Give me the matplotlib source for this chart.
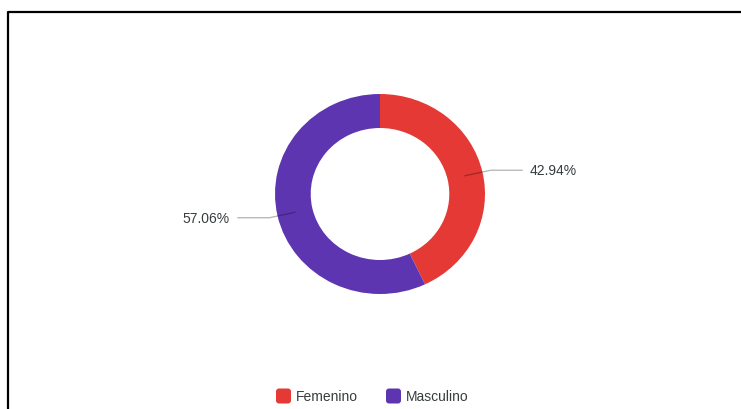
import numpy as np
import matplotlib.pyplot as plt
from matplotlib.patches import FancyBboxPatch

plt.rcParams['font.family'] = ['Liberation Sans', 'DejaVu Sans']

# --- datos ---
categorias = ['Femenino', 'Masculino']
porcentajes = [42.94, 57.06]
colores = ['#E53935', '#5E35B1']

W, H = 741, 410
fig = plt.figure(figsize=(W / 100, H / 100), dpi=100)

# capa en pixeles para el marco y la leyenda
capa = fig.add_axes([0, 0, 1, 1])
capa.set_xlim(0, W)
capa.set_ylim(H, 0)
capa.axis('off')

# --- dona ---
ax = fig.add_axes([0, 0, 1, 1])
wedges, _ = ax.pie(porcentajes, colors=colores, startangle=90, counterclock=False,
                   radius=1, wedgeprops=dict(width=0.34, edgecolor='none'))
cx, cy, rx, ry = 380, 195, 105, 100
ax.set_xlim(-cx / rx, (W - cx) / rx)
ax.set_ylim((cy - H) / ry, cy / ry)
ax.set_aspect('auto')
ax.axis('off')

# etiquetas con linea guia
for w, p in zip(wedges, porcentajes):
    ang = np.deg2rad((w.theta1 + w.theta2) / 2)
    c, s = np.cos(ang), np.sin(ang)
    lado = 1 if c >= 0 else -1
    x0, y0 = 0.83 * c, 0.83 * s
    x1, y1 = 1.08 * c, 1.08 * s
    x2 = x1 + lado * 0.30
    ax.plot([x0, x1, x2], [y0, y1, y1], color='black', alpha=0.3, lw=0.9)
    ax.text(x2 + lado * 0.075, y1, f'{p:.2f}%', fontsize=10, color='#373d3f',
            ha='left' if lado > 0 else 'right', va='center')

# --- marco ---
capa.plot([7.5, 7.5, W + 5], [H + 5, 12.5, 12.5], color='black', lw=1.6, clip_on=False)

# --- leyenda ---
ley_x = [276, 386]
ley_y = 397
for x, cat, col in zip(ley_x, categorias, colores):
    capa.add_patch(FancyBboxPatch((x, ley_y - 7.5), 15, 15,
                                  boxstyle='round,pad=0,rounding_size=3',
                                  fc=col, ec='none'))
    capa.text(x + 20, ley_y, cat, fontsize=10, color='#373d3f', ha='left', va='center')

fig.savefig('out.png', dpi=100)
